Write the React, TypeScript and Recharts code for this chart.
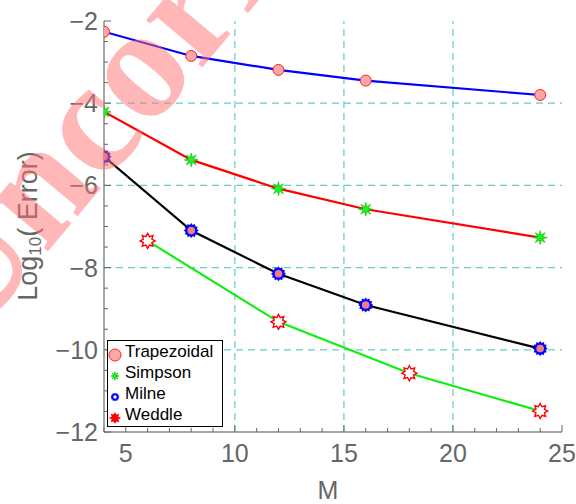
import React from 'react';
import { LineChart, Line, XAxis, YAxis, ReferenceLine, Legend } from 'recharts';

// M values and log10 errors
const mMain = [4, 8, 12, 16, 24];
const trapezoidal = [-2.26, -2.85, -3.19, -3.45, -3.8];
const simpson = [-4.21, -5.38, -6.08, -6.58, -7.27];
const milne = [-5.3, -7.1, -8.15, -8.91, -9.97];
const mWeddle = [6, 12, 18, 24];
const weddle = [-7.35, -9.32, -10.57, -11.49];

const xTicks = [4, 5, 6, 7, 8, 9, 10, 11, 12, 13, 14, 15, 16, 17, 18, 19, 20, 21, 22, 23, 24, 25];
const xLabels = [5, 10, 15, 20, 25];
const yTicks = [-12, -11.5, -11, -10.5, -10, -9.5, -9, -8.5, -8, -7.5, -7, -6.5, -6, -5.5, -5, -4.5, -4, -3.5, -3, -2.5, -2];
const yLabels = [-12, -10, -8, -6, -4, -2];
const gridX = [10, 15, 20];
const gridY = [-10, -8, -6, -4];

const trapData = mMain.map((m, i) => ({ m, v: trapezoidal[i] }));
const simpData = mMain.map((m, i) => ({ m, v: simpson[i] }));
const milneData = mMain.map((m, i) => ({ m, v: milne[i] }));
const weddleData = mWeddle.map((m, i) => ({ m, v: weddle[i] }));

const GRAY = '#666';
const FONT = 'Liberation Sans, Arial, sans-serif';

const star = (cx: number, cy: number, n: number, ro: number, ri: number) =>
  Array.from({ length: 2 * n }, (_, k) => {
    const a = -Math.PI / 2 + (k * Math.PI) / n;
    const r = k % 2 ? ri : ro;
    return `${cx + r * Math.cos(a)},${cy + r * Math.sin(a)}`;
  }).join(' ');

const TrapMark = ({ cx, cy, r = 5.5 }: any) => (
  <circle cx={cx} cy={cy} r={r} fill="#F8A8A8" stroke="#FF2020" strokeWidth={1} />
);
const SimpMark = ({ cx, cy, s = 1 }: any) => (
  <polygon points={star(cx, cy, 8, 7 * s, 2.8 * s)} fill="#22EE22" stroke="#00BB00" strokeWidth={0.6} />
);
const MilneMark = ({ cx, cy, s = 1, legend = false }: any) => (
  <g>
    <polygon points={star(cx, cy, 12, 7.5 * s, 5.8 * s)} fill="#0000FF" />
    <circle cx={cx} cy={cy} r={legend ? 1.7 : 3.8} fill={legend ? '#fff' : '#F08080'} />
  </g>
);
const WeddleMark = ({ cx, cy, s = 1, filled = false }: any) => (
  <polygon
    points={star(cx, cy, 8, 7.5 * s, 4.6 * s)}
    fill={filled ? '#FF0000' : '#fff'}
    stroke="#FF0000"
    strokeWidth={1.4}
  />
);

// markers sitting on the frame get cut by the plot box, like the original
const clipped = (key: string, el: React.ReactNode) => (
  <g key={key} clipPath="url(#plotBox)">
    {el}
  </g>
);

const BottomTick = ({ x, y, payload }: any) => {
  const major = xLabels.includes(payload.value);
  return (
    <g>
      <line x1={x} x2={x} y1={y} y2={y - (major ? 7 : 4)} stroke={GRAY} />
      {major && (
        <text x={x} y={y + 30} textAnchor="middle" fontSize={25} fill={GRAY} fontFamily={FONT}>
          {payload.value}
        </text>
      )}
    </g>
  );
};
const TopTick = ({ x, y, payload }: any) => {
  const major = xLabels.includes(payload.value);
  return <line x1={x} x2={x} y1={y} y2={y + (major ? 7 : 4)} stroke={GRAY} />;
};
const LeftTick = ({ x, y, payload }: any) => {
  const v = payload.value;
  const major = yLabels.includes(v);
  return (
    <g>
      <line x1={x} x2={x + (major ? 7 : 4)} y1={y} y2={y} stroke={GRAY} />
      {major && (
        <text x={x - 6} y={y + 9} textAnchor="end" fontSize={25} fill={GRAY} fontFamily={FONT}>
          {'\u2212' + Math.abs(v)}
        </text>
      )}
    </g>
  );
};
const RightTick = ({ x, y, payload }: any) => {
  const major = yLabels.includes(payload.value);
  return <line x1={x} x2={x - (major ? 7 : 4)} y1={y} y2={y} stroke={GRAY} />;
};

const legendRows = [
  { name: 'Trapezoidal', Mark: (p: any) => <TrapMark {...p} r={6} /> },
  { name: 'Simpson', Mark: (p: any) => <SimpMark {...p} s={0.6} /> },
  { name: 'Milne', Mark: (p: any) => <MilneMark {...p} s={0.6} legend /> },
  { name: 'Weddle', Mark: (p: any) => <WeddleMark {...p} s={0.6} filled /> },
];

const LegendBox = () => (
  <svg width={116} height={87} style={{ display: 'block' }}>
    <rect x={0.5} y={0.5} width={115} height={86} fill="#fff" stroke="#000" />
    {legendRows.map((r, i) => (
      <g key={r.name}>
        <r.Mark cx={8} cy={15 + i * 21} />
        <text x={18} y={17 + i * 21} fontSize={17} fill="#000" fontFamily={FONT}>
          {r.name}
        </text>
      </g>
    ))}
  </svg>
);

const YLabel = () => (
  <text transform="rotate(-90, 28, 226)" x={28} y={226} textAnchor="middle" dominantBaseline="central" fontSize={27} fill={GRAY} fontFamily={FONT}>
    Log
    <tspan fontSize={17} dy={7}>10</tspan>
    <tspan dy={-7}>( Error)</tspan>
  </text>
);

export default function App() {
  return (
    <div style={{ position: 'absolute', left: 0, top: 0, width: 576, height: 504, background: '#fff' }}>
      <svg width={0} height={0} style={{ position: 'absolute' }}>
        <defs>
          <clipPath id="plotBox">
            <rect x={104} y={21} width={458} height={411} />
          </clipPath>
        </defs>
      </svg>
      <LineChart width={576} height={504} margin={{ top: 21, right: 14, left: 0, bottom: 0 }}>
        <XAxis
          xAxisId="b"
          dataKey="m"
          type="number"
          domain={[4, 25]}
          ticks={xTicks}
          interval={0}
          allowDataOverflow
          height={72}
          tickSize={0}
          tickMargin={0}
          tickLine={false}
          axisLine={{ stroke: '#888', strokeWidth: 1.5 }}
          tick={<BottomTick />}
          label={{ value: 'M', position: 'insideBottom', offset: 5, dx: -5, fontSize: 25, fill: GRAY, fontFamily: FONT }}
        />
        <XAxis
          xAxisId="t"
          orientation="top"
          dataKey="m"
          type="number"
          domain={[4, 25]}
          ticks={xTicks}
          interval={0}
          allowDataOverflow
          height={0}
          tickSize={0}
          tickMargin={0}
          tickLine={false}
          axisLine={{ stroke: '#888', strokeWidth: 1.5 }}
          tick={<TopTick />}
        />
        <YAxis
          yAxisId="l"
          type="number"
          domain={[-12, -2]}
          ticks={yTicks}
          interval={0}
          allowDataOverflow
          width={104}
          tickSize={0}
          tickMargin={0}
          tickLine={false}
          axisLine={{ stroke: '#888', strokeWidth: 1.5 }}
          tick={<LeftTick />}
          label={{ content: <YLabel /> }}
        />
        <YAxis
          yAxisId="r"
          orientation="right"
          type="number"
          domain={[-12, -2]}
          ticks={yTicks}
          interval={0}
          allowDataOverflow
          width={0}
          tickSize={0}
          tickMargin={0}
          tickLine={false}
          axisLine={{ stroke: '#888', strokeWidth: 1.5 }}
          tick={<RightTick />}
        />
        {gridX.map((g) => (
          <ReferenceLine key={'gx' + g} x={g} xAxisId="b" yAxisId="l" stroke="#66CCCC" strokeDasharray="7 5" strokeWidth={1.2} />
        ))}
        {gridY.map((g) => (
          <ReferenceLine key={'gy' + g} y={g} xAxisId="b" yAxisId="l" stroke="#66CCCC" strokeDasharray="7 5" strokeWidth={1.2} />
        ))}
        <Line
          data={trapData}
          dataKey="v"
          name="Trapezoidal"
          xAxisId="b"
          yAxisId="l"
          type="linear"
          stroke="#0000FF"
          strokeWidth={2.2}
          isAnimationActive={false}
          dot={(p: any) => clipped('t' + p.index, <TrapMark cx={p.cx} cy={p.cy} />)}
        />
        <Line
          data={simpData}
          dataKey="v"
          name="Simpson"
          xAxisId="b"
          yAxisId="l"
          type="linear"
          stroke="#FF0000"
          strokeWidth={2.2}
          isAnimationActive={false}
          dot={(p: any) => clipped('s' + p.index, <SimpMark cx={p.cx} cy={p.cy} />)}
        />
        <Line
          data={milneData}
          dataKey="v"
          name="Milne"
          xAxisId="b"
          yAxisId="l"
          type="linear"
          stroke="#000000"
          strokeWidth={2.2}
          isAnimationActive={false}
          dot={(p: any) => clipped('m' + p.index, <MilneMark cx={p.cx} cy={p.cy} />)}
        />
        <Line
          data={weddleData}
          dataKey="v"
          name="Weddle"
          xAxisId="b"
          yAxisId="l"
          type="linear"
          stroke="#11EE11"
          strokeWidth={2.2}
          isAnimationActive={false}
          dot={(p: any) => clipped('w' + p.index, <WeddleMark cx={p.cx} cy={p.cy} />)}
        />
        <Legend
          layout="vertical"
          align="center"
          verticalAlign="middle"
          content={<LegendBox />}
          wrapperStyle={{ left: 107, top: 340, width: 116, height: 87 }}
        />
      </LineChart>
      <svg width={576} height={504} style={{ position: 'absolute', left: 0, top: 0, pointerEvents: 'none' }}>
        <text
          x={-29}
          y={343}
          transform="rotate(-50, -29, 343)"
          fontSize={160}
          fontWeight="bold"
          fontFamily="Liberation Serif, serif"
          fill="#FF7070"
          fillOpacity={0.5}
        >
          Uncorrected Proof
        </text>
      </svg>
    </div>
  );
}
